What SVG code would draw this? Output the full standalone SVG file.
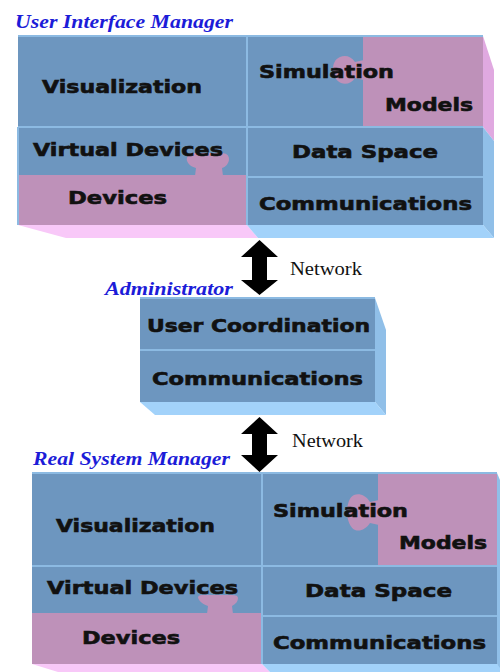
<svg xmlns="http://www.w3.org/2000/svg" width="500" height="672" viewBox="0 0 500 672">
<style>
.bg{fill:#ffffff}
.blue{fill:#6d96bf}
.pink{fill:#be91b9}
.grid{stroke:#8cbae2;stroke-width:2;fill:none}
.sideP{fill:#e0a9e0}
.sideB{fill:#90bfe8}
.botP{fill:#f8c8f8}
.botB{fill:#a2d2fa}
.cell{font-family:"DejaVu Sans","Liberation Sans",sans-serif;font-weight:bold;font-size:17.5px;fill:#111111;stroke:#111111;stroke-width:0.6}
.title{font-family:"Liberation Serif","DejaVu Serif",serif;font-weight:bold;font-style:italic;font-size:19px;fill:#1c1cd8}
.net{font-family:"Liberation Serif","DejaVu Serif",serif;font-size:18px;fill:#111111}
.arrow{fill:#000000}
</style>
<rect class="bg" x="0" y="0" width="500" height="672"/>

<g id="user-interface-manager">
  <text class="title" x="15" y="28" textLength="218" lengthAdjust="spacingAndGlyphs">User Interface Manager</text>
  <polygon class="sideP" points="483,36 494,70 494,141 483,127"/>
  <polygon class="sideB" points="483,127 494,141 494,238 483,225"/>
  <polygon class="botP" points="18,225 247,225 258,238 66,238"/>
  <polygon class="botB" points="247,225 483,225 494,238 258,238"/>
  <rect class="blue" x="18" y="36" width="465" height="189"/>
  <g id="uim-visualization">
    <text class="cell" x="42" y="93" textLength="160" lengthAdjust="spacingAndGlyphs">Visualization</text>
  </g>
  <g id="uim-devices">
    <rect class="pink" x="18" y="175" width="229" height="50"/>
    <path class="pink" d="M195,176 L196,168 C188,166 186,160 187,158 C188,154 191,153 195,153 L221,153 C226,153 229,155 229,159 C229,163 226,167 222,168 L223,176 Z"/>
    <text class="cell" x="68" y="204" textLength="99" lengthAdjust="spacingAndGlyphs">Devices</text>
  </g>
  <g id="uim-virtual-devices">
    <text class="cell" x="33" y="156" textLength="190" lengthAdjust="spacingAndGlyphs">Virtual Devices</text>
  </g>
  <g id="uim-simulation-models">
    <rect class="pink" x="363" y="36" width="120" height="91"/>
    <path class="pink" d="M364,60 L355,62 C351,56 345,55 340,57 C335,59 333,64 333,69 C333,75 336,81 341,83 C346,85 352,83 355,78 L364,80 Z"/>
    <text class="cell" x="259" y="78" textLength="135" lengthAdjust="spacingAndGlyphs">Simulation</text>
    <text class="cell" x="385" y="111" textLength="88" lengthAdjust="spacingAndGlyphs">Models</text>
  </g>
  <g id="uim-data-space">
    <text class="cell" x="292" y="158" textLength="146" lengthAdjust="spacingAndGlyphs">Data Space</text>
  </g>
  <g id="uim-communications">
    <text class="cell" x="259" y="210" textLength="213" lengthAdjust="spacingAndGlyphs">Communications</text>
  </g>
  <path class="grid" d="M18,36 H483 M247,36 V225 M18,127 H483 M247,177 H483 M18,127 V225"/>
</g>

<g id="administrator">
  <text class="title" x="105" y="295" textLength="128" lengthAdjust="spacingAndGlyphs">Administrator</text>
  <polygon class="sideB" points="375,298 386,330 386,415 375,402"/>
  <polygon class="botB" points="140,402 375,402 386,415 155,415"/>
  <rect class="blue" x="140" y="298" width="235" height="104"/>
  <g id="admin-user-coordination">
    <text class="cell" x="147" y="332" textLength="223" lengthAdjust="spacingAndGlyphs">User Coordination</text>
  </g>
  <g id="admin-communications">
    <text class="cell" x="152" y="385" textLength="211" lengthAdjust="spacingAndGlyphs">Communications</text>
  </g>
  <path class="grid" d="M140,298 H375 M140,350 H375"/>
</g>

<g id="real-system-manager">
  <text class="title" x="33" y="465" textLength="197" lengthAdjust="spacingAndGlyphs">Real System Manager</text>
  <polygon class="sideB" points="497,473 500,480 500,672 497,664"/>
  <polygon class="botP" points="32,664 262,664 270,672 58,672"/>
  <polygon class="botB" points="262,664 497,664 500,668 500,672 270,672"/>
  <rect class="blue" x="32" y="473" width="465" height="191"/>
  <g id="rsm-visualization">
    <text class="cell" x="56" y="532" textLength="159" lengthAdjust="spacingAndGlyphs">Visualization</text>
  </g>
  <g id="rsm-devices">
    <rect class="pink" x="32" y="613" width="230" height="51"/>
    <path class="pink" d="M207,614 L208,606 C201,604 198,599 198,597 C199,595 201,595 204,595 L232,595 C236,595 238,596 238,598 C238,601 236,604 232,606 L233,614 Z"/>
    <text class="cell" x="82" y="644" textLength="98" lengthAdjust="spacingAndGlyphs">Devices</text>
  </g>
  <g id="rsm-virtual-devices">
    <text class="cell" x="47" y="594" textLength="191" lengthAdjust="spacingAndGlyphs">Virtual Devices</text>
  </g>
  <g id="rsm-simulation-models">
    <rect class="pink" x="378" y="473" width="119" height="93"/>
    <path class="pink" d="M379,500 L370,502 C366,495 359,493 354,495 C349,497 347,506 347,512 C347,519 350,528 355,530 C360,532 366,529 370,523 L379,525 Z"/>
    <text class="cell" x="273" y="517" textLength="135" lengthAdjust="spacingAndGlyphs">Simulation</text>
    <text class="cell" x="399" y="549" textLength="88" lengthAdjust="spacingAndGlyphs">Models</text>
  </g>
  <g id="rsm-data-space">
    <text class="cell" x="305" y="597" textLength="147" lengthAdjust="spacingAndGlyphs">Data Space</text>
  </g>
  <g id="rsm-communications">
    <text class="cell" x="273" y="649" textLength="213" lengthAdjust="spacingAndGlyphs">Communications</text>
  </g>
  <path class="grid" d="M32,473 H497 M262,473 V664 M32,566 H497 M262,616 H497"/>
</g>

<g id="connectors">
  <polygon class="arrow" points="259.5,240 278,257 267,257 267,280 278,280 259.5,295 241,280 252,280 252,257 241,257"/>
  <text class="net" x="290" y="275" textLength="72" lengthAdjust="spacingAndGlyphs">Network</text>
  <polygon class="arrow" points="259.5,417 278,434 267,434 267,455 278,455 259.5,472 241,455 252,455 252,434 241,434"/>
  <text class="net" x="292" y="447" textLength="71" lengthAdjust="spacingAndGlyphs">Network</text>
</g>
</svg>
